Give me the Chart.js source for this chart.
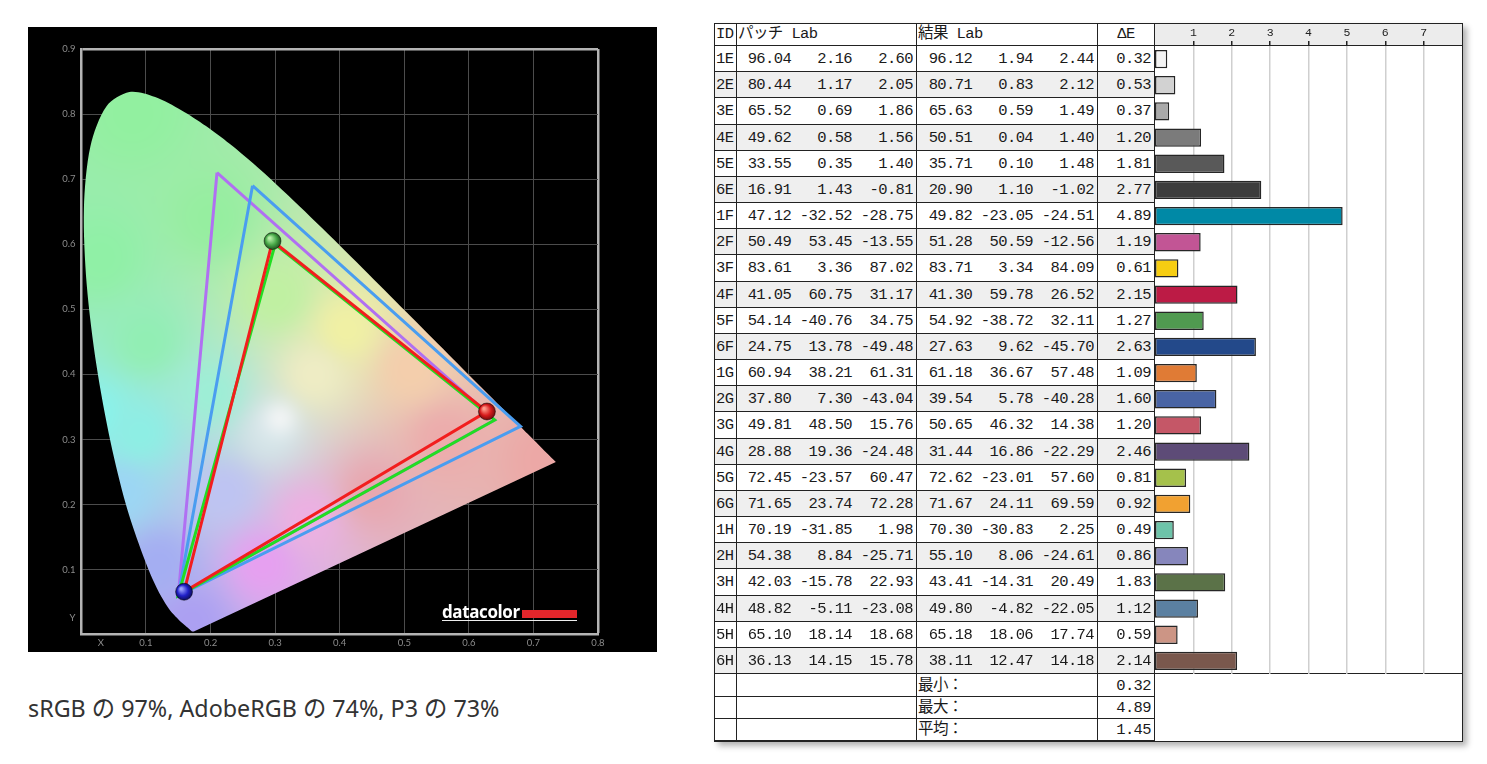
<!DOCTYPE html>
<html lang="ja">
<head>
<meta charset="utf-8">
<title>色域と色差</title>
<script src="https://cdn.jsdelivr.net/npm/chart.js@4.4.1/dist/chart.umd.min.js"></script>
<style>
  html, body { margin: 0; padding: 0; background: #fff; }
  body { width: 1487px; height: 764px; position: relative; overflow: hidden;
         font-family: "Liberation Mono", "Noto Sans CJK JP", monospace; color: #1a1a1a; }
  .abs { position: absolute; }
  #cieBox { left: 28px; top: 27px; width: 629px; height: 625px; background: #000; }
  #logo { left: 414px; top: 574px; height: 19px; display: flex; align-items: flex-end;
          border-bottom: 1.5px solid #eee; }
  #logo .word { color: #fff; font: bold 17px "Open Sans", sans-serif; line-height: 17px; letter-spacing: -0.4px; }
  #logo .red { width: 55px; height: 8px; background: #e3262b; margin: 0 0 2px 2px; }
  #caption { left: 28px; top: 690px; font: 23.3px "Noto Sans", "Noto Sans CJK JP", sans-serif; color: #333; white-space: pre; }
  #frame { left: 714px; top: 23px; width: 749px; height: 719px; border: 1px solid #222; box-sizing: border-box;
           background: #fff; box-shadow: 4px 4px 6px rgba(0,0,0,0.3); }
  .txt { white-space: pre; font-size: 15.5px; letter-spacing: -0.6px; overflow: hidden; }
  .line { background: #222; }
  #barHead { left: 1155px; top: 24px; width: 307px; height: 21px; background: #ececec; }
  #barBox { left: 1155px; top: 24px; width: 307px; height: 650px; }
</style>
</head>
<body>
<div id="cieBox" class="abs">
  <canvas id="cie"></canvas>
  <div id="logo" class="abs"><span class="word">datacolor</span><span class="red"></span></div>
</div>
<div id="caption" class="abs">sRGB の 97%, AdobeRGB の 74%, P3 の 73%</div>
<div id="frame" class="abs"></div>
<div id="barHead" class="abs"></div>
<div id="rows"></div>
<div id="barBox" class="abs"><canvas id="bars"></canvas></div>
<script>
// ---- 色差テーブルのデータ ----
const ids = ['1E','2E','3E','4E','5E','6E','1F','2F','3F','4F','5F','6F',
             '1G','2G','3G','4G','5G','6G','1H','2H','3H','4H','5H','6H']
const patchL = [96.04, 80.44, 65.52, 49.62, 33.55, 16.91, 47.12, 50.49, 83.61, 41.05, 54.14, 24.75,
                60.94, 37.80, 49.81, 28.88, 72.45, 71.65, 70.19, 54.38, 42.03, 48.82, 65.10, 36.13]
const patchA = [2.16, 1.17, 0.69, 0.58, 0.35, 1.43, -32.52, 53.45, 3.36, 60.75, -40.76, 13.78,
                38.21, 7.30, 48.50, 19.36, -23.57, 23.74, -31.85, 8.84, -15.78, -5.11, 18.14, 14.15]
const patchB = [2.60, 2.05, 1.86, 1.56, 1.40, -0.81, -28.75, -13.55, 87.02, 31.17, 34.75, -49.48,
                61.31, -43.04, 15.76, -24.48, 60.47, 72.28, 1.98, -25.71, 22.93, -23.08, 18.68, 15.78]
const resultL = [96.12, 80.71, 65.63, 50.51, 35.71, 20.90, 49.82, 51.28, 83.71, 41.30, 54.92, 27.63,
                 61.18, 39.54, 50.65, 31.44, 72.62, 71.67, 70.30, 55.10, 43.41, 49.80, 65.18, 38.11]
const resultA = [1.94, 0.83, 0.59, 0.04, 0.10, 1.10, -23.05, 50.59, 3.34, 59.78, -38.72, 9.62,
                 36.67, 5.78, 46.32, 16.86, -23.01, 24.11, -30.83, 8.06, -14.31, -4.82, 18.06, 12.47]
const resultB = [2.44, 2.12, 1.49, 1.40, 1.48, -1.02, -24.51, -12.56, 84.09, 26.52, 32.11, -45.70,
                 57.48, -40.28, 14.38, -22.29, 57.60, 69.59, 2.25, -24.61, 20.49, -22.05, 17.74, 14.18]
const deltaE = [0.32, 0.53, 0.37, 1.20, 1.81, 2.77, 4.89, 1.19, 0.61, 2.15, 1.27, 2.63,
                1.09, 1.60, 1.20, 2.46, 0.81, 0.92, 0.49, 0.86, 1.83, 1.12, 0.59, 2.14]
const summaryLabels = ['最小：', '最大：', '平均：']
const summaryValues = [0.32, 4.89, 1.45]
const barTickValues = [1, 2, 3, 4, 5, 6, 7]
const barTickLabels = ['1', '2', '3', '4', '5', '6', '7']

// バーの色（パッチの色）
const barColors = ['#f4f4f4','#d2d2d2','#a9a9a9','#7b7b7b','#595959','#3d3d3d',
                   '#0089a6','#c25595','#f6cd12','#bc1b45','#509a50','#23498a',
                   '#e07b35','#4964a4','#c55767','#5d4b77','#a5c14b','#f1a131',
                   '#6dc3a9','#8686bc','#5b7248','#5b80a1','#cc9585','#7a584d']

// ---- 色度図のデータ (CIE 1931 xy) ----
const locusX = [0.1741,0.1740,0.1738,0.1736,0.1733,0.1730,0.1726,0.1721,0.1714,0.1703,0.1689,0.1669,
                0.1644,0.1611,0.1566,0.1510,0.1440,0.1355,0.1241,0.1096,0.0913,0.0687,0.0454,0.0235,
                0.0082,0.0039,0.0139,0.0389,0.0743,0.1142,0.1547,0.1929,0.2296,0.2658,0.3016,0.3373,
                0.3731,0.4087,0.4441,0.4788,0.5125,0.5448,0.5752,0.6029,0.6270,0.6482,0.6658,0.6801,
                0.6915,0.7006,0.7079,0.7140,0.7190,0.7230,0.7260,0.7283,0.7300,0.7311,0.7320,0.7334,
                0.7344,0.7347]
const locusY = [0.0050,0.0050,0.0049,0.0049,0.0048,0.0048,0.0048,0.0048,0.0051,0.0058,0.0069,0.0086,
                0.0109,0.0138,0.0177,0.0227,0.0297,0.0399,0.0578,0.0868,0.1327,0.2007,0.2950,0.4127,
                0.5384,0.6548,0.7502,0.8120,0.8338,0.8262,0.8059,0.7816,0.7543,0.7243,0.6923,0.6589,
                0.6245,0.5896,0.5547,0.5202,0.4866,0.4544,0.4242,0.3965,0.3725,0.3514,0.3340,0.3197,
                0.3083,0.2993,0.2920,0.2859,0.2809,0.2770,0.2740,0.2717,0.2700,0.2689,0.2680,0.2666,
                0.2656,0.2653]
// 三角形の頂点 (G, R, B)
const adobeX = [0.21, 0.64, 0.15], adobeY = [0.71, 0.33, 0.06]
const p3X = [0.265, 0.68, 0.15], p3Y = [0.69, 0.32, 0.06]
const srgbX = [0.30, 0.64, 0.15], srgbY = [0.60, 0.33, 0.06]
const measuredX = [0.296, 0.628, 0.159], measuredY = [0.605, 0.343, 0.066]
const cieXTicks = [0.03, 0.1, 0.2, 0.3, 0.4, 0.5, 0.6, 0.7, 0.8]
const cieXLabels = ['X', '0.1', '0.2', '0.3', '0.4', '0.5', '0.6', '0.7', '0.8']
const cieYTicks = [0.025, 0.1, 0.2, 0.3, 0.4, 0.5, 0.6, 0.7, 0.8, 0.9]
const cieYLabels = ['Y', '0.1', '0.2', '0.3', '0.4', '0.5', '0.6', '0.7', '0.8', '0.9']

const toPoints = (xs, ys) => xs.map((x, i) => ({x: x, y: ys[i]}))
const closed = (xs, ys) => { const p = toPoints(xs, ys); return p.concat([p[0]]) }

// ---- テーブル（HTML） ----
const rowsEl = document.getElementById('rows')
const ROW_TOP = 46, ROW_H = 628 / 24, SUM_TOP = 675, SUM_H = 22

function box(left, top, width, height, cls, text, style) {
    const d = document.createElement('div')
    d.className = 'abs ' + (cls || '')
    d.style.left = left + 'px'
    d.style.top = top + 'px'
    d.style.width = width + 'px'
    d.style.height = height + 'px'
    if (text !== undefined) {
        d.textContent = text
        d.style.lineHeight = height + 'px'
    }
    if (style) Object.assign(d.style, style)
    rowsEl.appendChild(d)
    return d
}
const fmt = (v, n) => v.toFixed(2).padStart(n)

// ヘッダー
box(716, 24, 20, 21, 'txt', 'ID')
box(738, 24, 170, 21, 'txt', 'パッチ Lab')
box(918, 24, 170, 21, 'txt', '結果 Lab')
box(1098, 24, 56, 21, 'txt', 'ΔE', {textAlign: 'center'})
box(715, 45, 747, 1, 'line')

ids.forEach((id, i) => {
    const top = ROW_TOP + i * ROW_H
    box(715, top, 439, ROW_H, '', undefined, {background: i % 2 ? '#efefef' : '#fff'})
    box(716, top, 20, ROW_H, 'txt', id)
    box(737, top, 176, ROW_H, 'txt', fmt(patchL[i], 5) + fmt(patchA[i], 7) + fmt(patchB[i], 7), {textAlign: 'right'})
    box(917, top, 177, ROW_H, 'txt', fmt(resultL[i], 5) + fmt(resultA[i], 7) + fmt(resultB[i], 7), {textAlign: 'right'})
    box(1098, top, 53, ROW_H, 'txt', deltaE[i].toFixed(2), {textAlign: 'right'})
    box(715, top + ROW_H - 1, 439, 1, 'line')
})
box(715, 673, 747, 1, 'line')

summaryLabels.forEach((label, j) => {
    const top = SUM_TOP + j * SUM_H
    box(918, top, 170, SUM_H, 'txt', label)
    box(1098, top, 53, SUM_H, 'txt', summaryValues[j].toFixed(2), {textAlign: 'right'})
    box(715, top + SUM_H - 1, 439, 1, 'line')
})
;[736, 916, 1097, 1154].forEach(x => box(x, 24, 1, 717, 'line'))

// ---- 色度図の塗り（馬蹄形の中のグラデーション） ----
// [x, y, r, g, b] の色の目安点。逆距離で混ぜ、白色点は上から薄く重ねる
const fillAnchors = [
    [0.08, 0.80, 146, 240, 160], [0.03, 0.58, 144, 240, 166], [0.20, 0.64, 150, 238, 160],
    [0.10, 0.45, 146, 238, 180], [0.02, 0.34, 138, 242, 234], [0.09, 0.31, 142, 238, 228],
    [0.06, 0.22, 156, 214, 244], [0.12, 0.11, 164, 174, 242], [0.17, 0.02, 172, 160, 242],
    [0.28, 0.11, 230, 160, 240], [0.35, 0.18, 236, 176, 226], [0.41, 0.47, 240, 240, 164],
    [0.36, 0.40, 238, 236, 196], [0.51, 0.41, 244, 206, 172], [0.56, 0.30, 236, 172, 172],
    [0.72, 0.27, 236, 168, 166], [0.45, 0.22, 232, 168, 176], [0.30, 0.52, 192, 240, 162],
    [0.20, 0.37, 158, 238, 214], [0.22, 0.22, 190, 196, 242], [0.29, 0.31, 212, 228, 232]
]
const whitePoint = [0.307, 0.333, 0.028]
let fillCache = null
function locusFill(chart) {
    const area = chart.chartArea
    if (!area) return '#bfeeb8'
    const key = chart.width + 'x' + chart.height
    if (fillCache && fillCache.key === key) return fillCache.pattern
    const off = document.createElement('canvas')
    off.width = chart.width
    off.height = chart.height
    const g = off.getContext('2d')
    const img = g.createImageData(off.width, off.height)
    const sx = chart.scales.x, sy = chart.scales.y
    for (let py = Math.floor(area.top); py < Math.ceil(area.bottom); py++) {
        const cy = sy.getValueForPixel(py)
        for (let px = Math.floor(area.left); px < Math.ceil(area.right); px++) {
            const cx = sx.getValueForPixel(px)
            let r = 0, gg = 0, b = 0, w = 0
            for (const a of fillAnchors) {
                const d2 = (cx - a[0]) ** 2 + (cy - a[1]) ** 2
                const k = 1 / (Math.pow(d2, 1.3) + 1e-9)
                r += a[2] * k; gg += a[3] * k; b += a[4] * k; w += k
            }
            r /= w; gg /= w; b /= w
            const wd = ((cx - whitePoint[0]) ** 2 + (cy - whitePoint[1]) ** 2) / (whitePoint[2] ** 2)
            const t = 0.75 * Math.exp(-wd)
            const o = (py * off.width + px) * 4
            img.data[o] = r + (248 - r) * t
            img.data[o + 1] = gg + (248 - gg) * t
            img.data[o + 2] = b + (248 - b) * t
            img.data[o + 3] = 255
        }
    }
    g.putImageData(img, 0, 0)
    fillCache = {key: key, pattern: chart.ctx.createPattern(off, 'no-repeat')}
    return fillCache.pattern
}

const sphereBase = ['#48a848', '#d81c1c', '#2020c8']
const sphereLight = ['#b8f0a8', '#ff9a8a', '#9aa0ff']
const sphereDark = ['#1c4a1c', '#6a0a0a', '#0a0a50']
function sphere(ctx) {
    const i = ctx.dataIndex
    const chart = ctx.chart
    if (!chart.chartArea || !ctx.parsed) return sphereBase[i] || '#888'
    const px = chart.scales.x.getPixelForValue(ctx.parsed.x)
    const py = chart.scales.y.getPixelForValue(ctx.parsed.y)
    const g = chart.ctx.createRadialGradient(px - 3, py - 3, 1, px, py, 9)
    g.addColorStop(0, sphereLight[i])
    g.addColorStop(0.55, sphereBase[i])
    g.addColorStop(1, sphereDark[i])
    return g
}

const gamutLine = (data, color, order) => ({
    data: data, borderColor: color, borderWidth: 3, pointRadius: 0, fill: false, tension: 0, order: order
})

new Chart(document.getElementById('cie'), {
    type: 'line',
    data: {
        datasets: [
            {data: toPoints(locusX, locusY), fill: 'shape', backgroundColor: ctx => locusFill(ctx.chart),
             borderWidth: 0, borderColor: 'rgba(0,0,0,0)', pointRadius: 0, tension: 0.3, order: 10},
            gamutLine(closed(adobeX, adobeY), '#b070f2', 6),
            gamutLine(closed(p3X, p3Y), '#4a9df0', 5),
            gamutLine(closed(srgbX, srgbY), '#22dd22', 4),
            gamutLine(closed(measuredX, measuredY), '#f21e1e', 3),
            {data: toPoints(measuredX, measuredY), showLine: false, pointRadius: 8.5,
             pointBackgroundColor: sphere, pointBorderColor: 'rgba(0,0,0,0.45)', pointBorderWidth: 1, order: 1}
        ]
    },
    options: {
        responsive: true,
        maintainAspectRatio: false,
        animation: false,
        layout: {padding: {left: 0, right: 59, top: 22, bottom: 0}},
        plugins: {legend: {display: false}, tooltip: {enabled: false}},
        scales: {
            x: {
                type: 'linear', min: 0, max: 0.8,
                afterBuildTicks: s => { s.ticks = cieXTicks.map(v => ({value: v})) },
                afterFit: s => { s.height = 17.3 },
                ticks: {callback: (v, i) => cieXLabels[i], color: '#8c8c8c', autoSkip: false, maxRotation: 0,
                        padding: 3, font: {size: 9.5, family: 'Lato'}},
                grid: {
                    drawTicks: false,
                    color: c => c.tick.value < 0.05 ? 'rgba(0,0,0,0)' : (c.tick.value > 0.79 ? '#b4b4b4' : '#4c4c4c'),
                    lineWidth: c => c.tick.value > 0.79 ? 2.5 : 1
                },
                border: {display: true, color: '#b4b4b4', width: 2.5}
            },
            y: {
                type: 'linear', min: 0, max: 0.9,
                afterBuildTicks: s => { s.ticks = cieYTicks.map(v => ({value: v})) },
                afterFit: s => { s.width = 53.4 },
                ticks: {callback: (v, i) => cieYLabels[i], color: '#8c8c8c', autoSkip: false,
                        padding: 6, font: {size: 9.5, family: 'Lato'}},
                grid: {
                    drawTicks: false,
                    color: c => c.tick.value < 0.05 ? 'rgba(0,0,0,0)' : (c.tick.value > 0.89 ? '#b4b4b4' : '#4c4c4c'),
                    lineWidth: c => c.tick.value > 0.89 ? 2.5 : 1
                },
                border: {display: true, color: '#b4b4b4', width: 2.5}
            }
        }
    }
})

// ---- ΔE の棒グラフ ----
new Chart(document.getElementById('bars'), {
    type: 'bar',
    data: {
        labels: ids,
        datasets: [{
            data: deltaE,
            backgroundColor: barColors,
            borderColor: '#262626',
            borderWidth: 1.5,
            borderSkipped: false,
            barPercentage: 0.7,
            categoryPercentage: 1
        }]
    },
    options: {
        indexAxis: 'y',
        responsive: true,
        maintainAspectRatio: false,
        animation: false,
        layout: {padding: 0},
        plugins: {legend: {display: false}, tooltip: {enabled: false}},
        scales: {
            x: {
                position: 'top', min: 0, max: 8,
                afterBuildTicks: s => { s.ticks = barTickValues.map(v => ({value: v})) },
                afterFit: s => { s.height = 22 },
                ticks: {callback: (v, i) => barTickLabels[i], color: '#222', padding: 1, maxRotation: 0,
                        font: {size: 11.5, family: 'Liberation Mono'}},
                grid: {color: '#cfcfcf', lineWidth: 1.5, tickColor: '#222', tickLength: 5},
                border: {display: false}
            },
            y: {display: false, grid: {display: false}}
        }
    }
})
</script>
</body>
</html>
